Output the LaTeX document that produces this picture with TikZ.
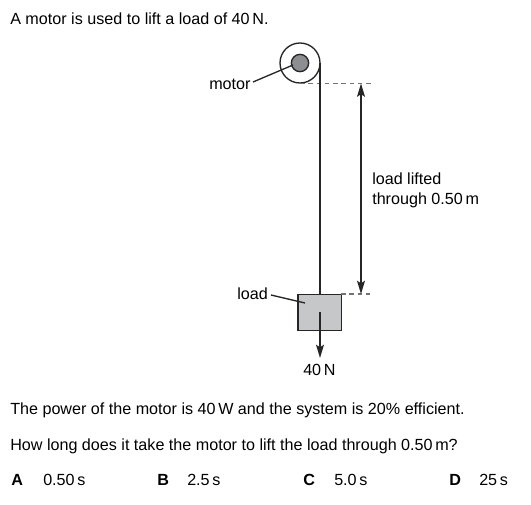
\documentclass[tikz,border=0pt]{standalone}
\usepackage{fontspec}
\setmainfont{Liberation Sans}
\usetikzlibrary{positioning,arrows.meta}
\tikzset{arista/.style={line width=1pt,draw=black!85}}
\tikzset{guia/.style={line width=0.8pt,draw=black!55,dash pattern=on 3.4pt off 2.8pt}}
\tikzset{punta/.tip={Stealth[length=10pt,width=6pt,inset=2pt]}}
\tikzset{flecha/.style={arista,-punta}}
\tikzset{texto/.style={anchor=base west,inner sep=0pt,font=\fontsize{12.1pt}{14pt}\selectfont}}
\definecolor{shaftgrey}{RGB}{140,142,146}
\definecolor{loadgrey}{RGB}{198,199,201}
\begin{document}
\begin{tikzpicture}[x=0.75pt,y=-0.75pt]
    \useasboundingbox (0,0) rectangle (531,504);
    \node[texto] (title) at (10,24) {A motor is used to lift a load of 40\,N.};

    \node[draw=black!85,line width=1pt,circle,inner sep=0pt,minimum size=30pt] (pulley) at (300,63) {};
    \node[draw=black!85,line width=1pt,circle,fill=shaftgrey,inner sep=0pt,minimum size=13pt] (shaft) at (300,63) {};
    \node[draw=black!85,line width=1pt,fill=loadgrey,inner sep=0pt,minimum width=32.5pt,minimum height=27pt] (box) at (319.5,312.5) {};

    \node[texto] (motor) at (209,89) {motor};
    \node[texto] (load) at (237,299) {load};
    \node[texto] (lifted) at (372,184) {load lifted};
    \node[texto] (through) at (372,204) {through 0.50\,m};
    \node[texto] (force) at (303,375) {40\,N};

    \coordinate (motorend) at (253,82);
    \coordinate (shaftin) at (293,65);
    \coordinate (loadend) at (271,295);
    \coordinate (boxin) at (305,303);
    \coordinate (ropetop) at (320,63);
    \coordinate (ropeend) at (320,294);
    \coordinate (forcetop) at (320,312);
    \coordinate (forceend) at (320,358);
    \coordinate (topa) at (300,83.5);
    \coordinate (topb) at (371,83.5);
    \coordinate (lowa) at (341,294);
    \coordinate (lowb) at (371,294);
    \coordinate (spanup) at (361,83.5);
    \coordinate (spandown) at (361,294);

    \draw[guia] (topa) to (topb);
    \draw[guia] (lowa) to (lowb);
    \draw[arista] (ropetop) to (ropeend);
    \draw[arista] (motorend) to (shaftin);
    \draw[arista] (loadend) to (boxin);
    \draw[flecha] (forcetop) to (forceend);
    \draw[arista,punta-punta] (spanup) to (spandown);

    \node[texto] (power) at (10,414) {The power of the motor is 40\,W and the system is 20\% efficient.};
    \node[texto] (question) at (10,450) {How long does it take the motor to lift the load through 0.50\,m?};

    \node[texto] (a) at (11,485) {\textbf{A}};
    \node[texto] (avalue) at (43,485) {0.50\,s};
    \node[texto] (b) at (157,485) {\textbf{B}};
    \node[texto] (bvalue) at (187,485) {2.5\,s};
    \node[texto] (c) at (303,485) {\textbf{C}};
    \node[texto] (cvalue) at (334,485) {5.0\,s};
    \node[texto] (d) at (449,485) {\textbf{D}};
    \node[texto] (dvalue) at (479,485) {25\,s};
\end{tikzpicture}
\end{document}
